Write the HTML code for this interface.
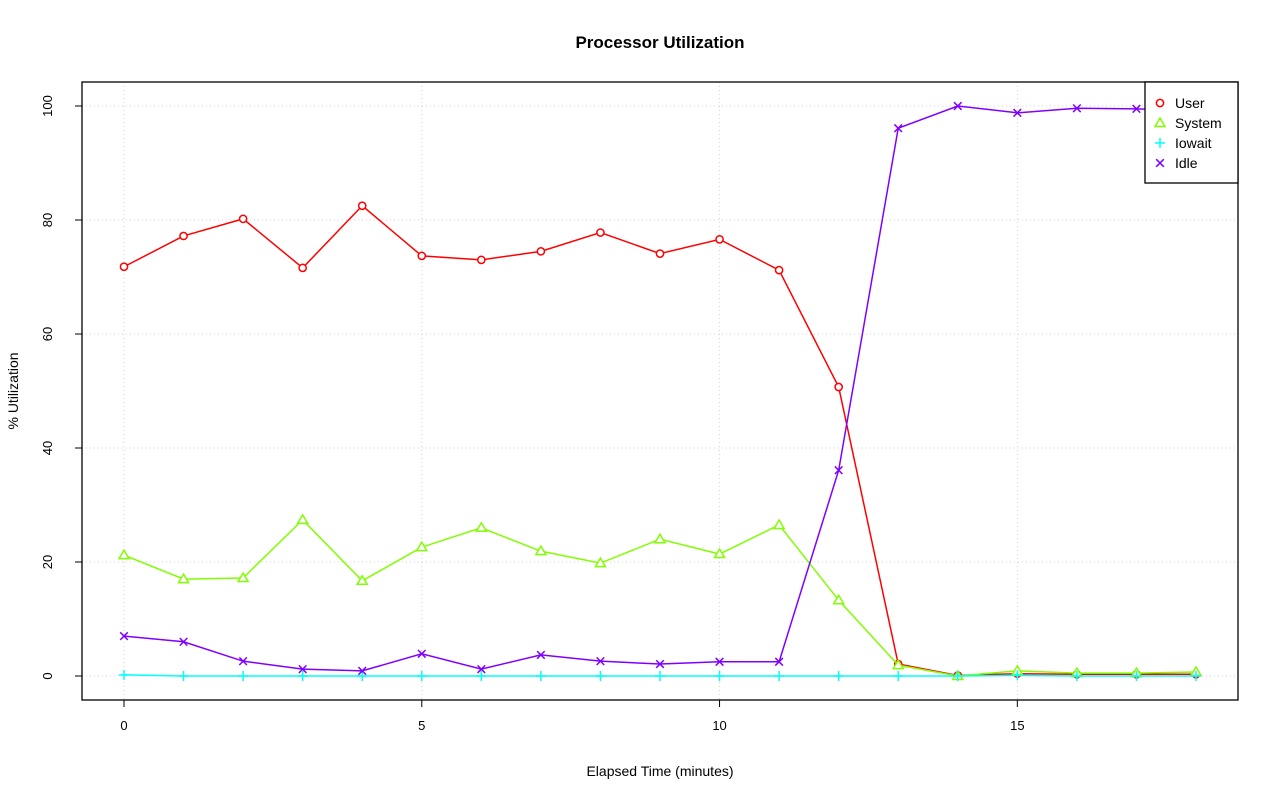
<!DOCTYPE html>
<html><head><meta charset="utf-8"><style>
html,body{margin:0;padding:0;background:#fff;}
svg{display:block;font-family:"Liberation Sans",Arial,sans-serif;}
</style></head><body>
<svg id="chart" width="1280" height="801" viewBox="0 0 1280 801" xmlns="http://www.w3.org/2000/svg">
<rect width="1280" height="801" fill="#fff"/>
<text x="660" y="48" text-anchor="middle" font-size="17" font-weight="bold">Processor Utilization</text>
<text x="660" y="776" text-anchor="middle" font-size="14">Elapsed Time (minutes)</text>
<text x="18" y="391" text-anchor="middle" font-size="14" transform="rotate(-90 18 391)">% Utilization</text>
<g id="grid"></g>
<g id="axes"></g>
<g id="series"></g>
<rect x="82" y="82" width="1156" height="618" fill="none" stroke="#000" stroke-width="1.3"/>
<g>
<rect x="1145" y="82" width="93" height="101" fill="#fff" stroke="#000" stroke-width="1.3"/>
<g id="legend-items"></g>
</g>
</svg>
<script>
const times = [0,1,2,3,4,5,6,7,8,9,10,11,12,13,14,15,16,17,18];
const userVals = [71.8,77.2,80.2,71.6,82.5,73.7,73.0,74.5,77.8,74.1,76.6,71.2,50.7,2.1,0.1,0.4,0.3,0.3,0.3];
const systemVals = [21.2,17.0,17.2,27.4,16.7,22.6,26.0,21.9,19.8,24.0,21.4,26.5,13.3,1.9,0.0,0.9,0.5,0.5,0.7];
const iowaitVals = [0.2,0,0,0,0,0,0,0,0,0,0,0,0,0,0,0.1,0,0,0];
const idleVals = [7.0,6.0,2.6,1.2,0.9,3.9,1.2,3.7,2.6,2.1,2.5,2.5,36.1,96.1,100,98.8,99.6,99.5,99.1];
const xTicks = [0,5,10,15];
const yTicks = [0,20,40,60,80,100];
const seriesNames = ["User","System","Iowait","Idle"];

const NS="http://www.w3.org/2000/svg";
const xs = v => 124 + v*(1196-124)/18;
const ys = v => 676 - v*5.7;
function mk(tag, attrs, parent){const e=document.createElementNS(NS,tag);for(const k in attrs)e.setAttribute(k,attrs[k]);parent.appendChild(e);return e;}
const grid=document.getElementById('grid'), axes=document.getElementById('axes'), ser=document.getElementById('series');

xTicks.forEach(t=>{
  const g=mk('line',{x1:xs(t),x2:xs(t),y1:82,y2:700,stroke:'#d3d3d3','stroke-dasharray':'1,3'},grid);
  
  
  mk('line',{x1:xs(t),x2:xs(t),y1:700,y2:707,stroke:'#000'},axes);
  const tx=mk('text',{x:xs(t),y:730,'text-anchor':'middle','font-size':'13'},axes);
  tx.textContent=t;
  
  
});
mk('line',{x1:xs(0),x2:xs(15),y1:700,y2:700,stroke:'#000'},axes);
yTicks.forEach(t=>{
  const g=mk('line',{x1:82,x2:1238,y1:ys(t),y2:ys(t),stroke:'#d3d3d3','stroke-dasharray':'1,3'},grid);
  
  
  mk('line',{x1:75,x2:82,y1:ys(t),y2:ys(t),stroke:'#000'},axes);
  const tx=mk('text',{x:52,y:ys(t),'text-anchor':'middle','font-size':'13',transform:`rotate(-90 52 ${ys(t)})`},axes);
  tx.textContent=t;
  
  
});

function marker(type,x,y,color,parent){
  let e;
  if(type==='circle') e=mk('circle',{cx:x,cy:y,r:3.6,fill:'#fff',stroke:color,'stroke-width':1.5},parent);
  else if(type==='tri') e=mk('polygon',{points:`${x},${y-5} ${x-5},${y+3.5} ${x+5},${y+3.5}`,fill:'#fff',stroke:color,'stroke-width':1.5},parent);
  else if(type==='plus') e=mk('path',{d:`M${x-5},${y}H${x+5}M${x},${y-5}V${y+5}`,stroke:color,'stroke-width':1.5},parent);
  else e=mk('path',{d:`M${x-3.8},${y-3.8}L${x+3.8},${y+3.8}M${x-3.8},${y+3.8}L${x+3.8},${y-3.8}`,stroke:color,'stroke-width':1.5},parent);
  return e;
}
const defs=[[userVals,'#ff0000','circle','user'],[systemVals,'#80ff00','tri','system'],[iowaitVals,'#00ffff','plus','iowait'],[idleVals,'#8000ff','x','idle']];
defs.forEach(([vals,color,type,name])=>{
  const g=mk('g',{},ser);
  
  
  const p=mk('polyline',{points:vals.map((v,i)=>xs(times[i])+','+ys(v)).join(' '),fill:'none',stroke:color,'stroke-width':1.5},g);
  
  
  vals.forEach((v,i)=>{
    const m=marker(type,xs(times[i]),ys(v),color,g);
    
    
  });
});
const li=document.getElementById('legend-items');
defs.forEach(([vals,color,type,name],i)=>{
  const y=103+i*20;
  const m=marker(type,1160,y,color,li);
  
  
  const t=mk('text',{x:1175,y:y+5,'font-size':'14'},li);
  t.textContent=seriesNames[i];
  
  
});
</script>
</body></html>
